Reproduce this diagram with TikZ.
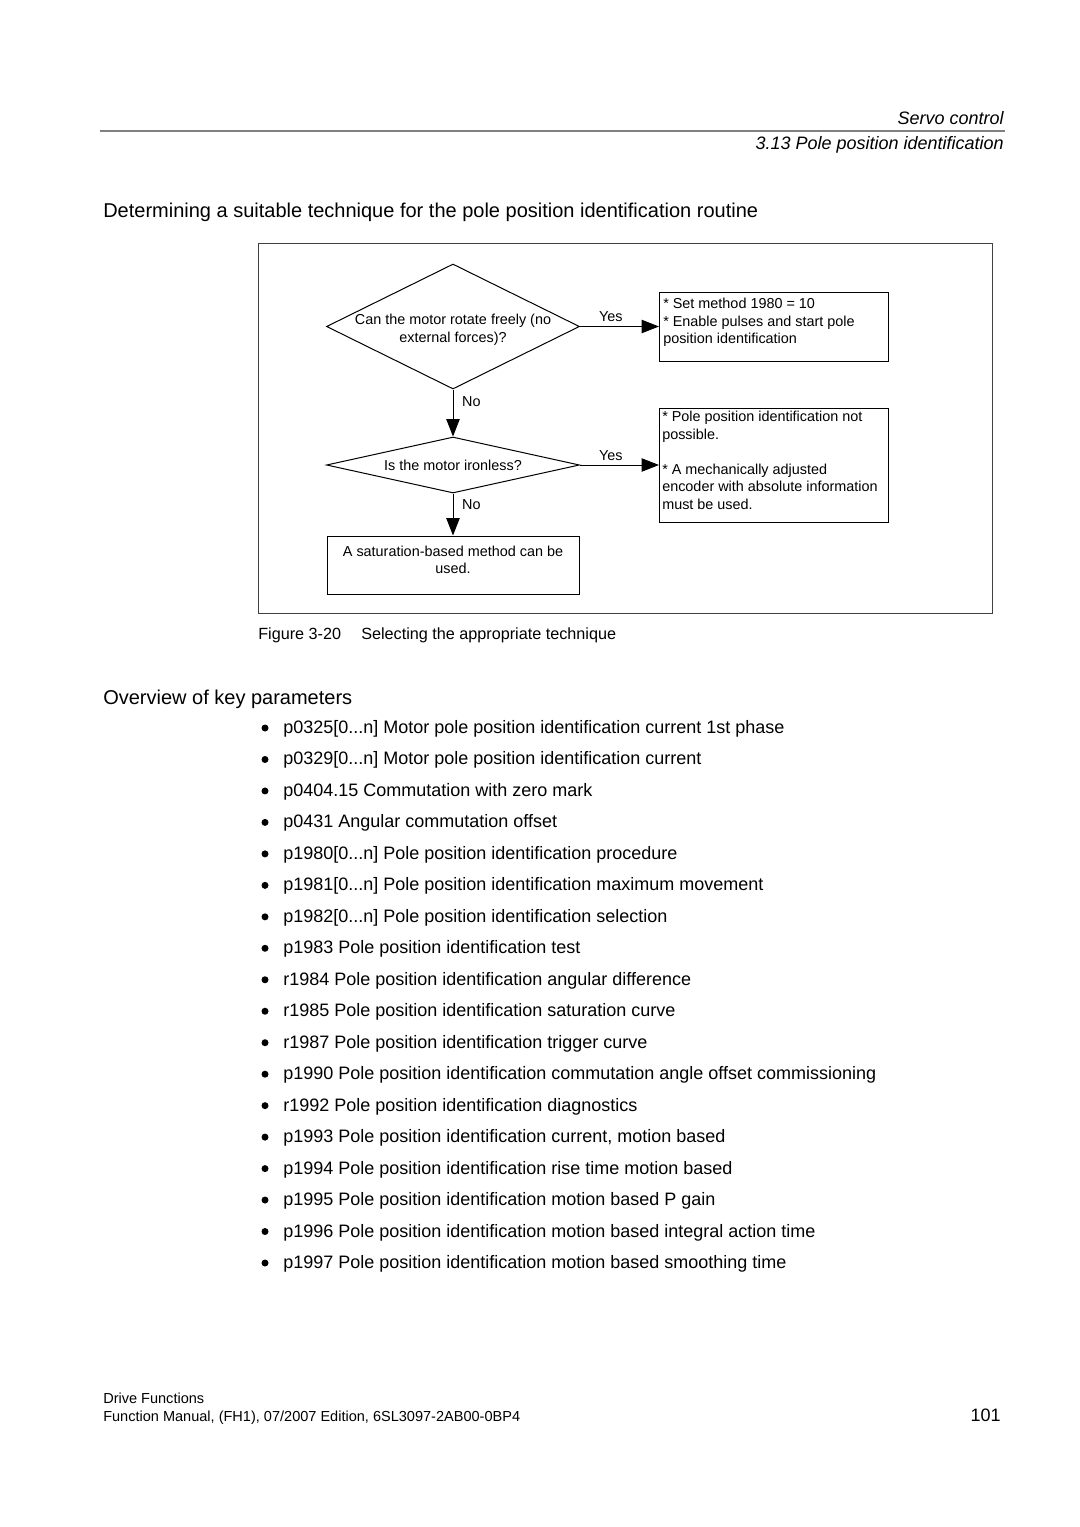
\documentclass[tikz,border=0pt]{standalone}
\usepackage{fontspec}
\setmainfont{Liberation Sans}
\usetikzlibrary{positioning,shapes.geometric,arrows.meta}
\newcommand{\idxrange}{[0...n]}

\begin{document}
\begin{tikzpicture}[x=0.75pt, y=-0.75pt,
          arrowstyle/.style={-{Triangle[length=13pt, width=10pt]}, line width=0.75pt},
          flowtext/.style={font=\fontsize{10.8}{13.1}\selectfont, inner sep=0pt}]
          % Boxes and diamonds of the flow chart
          \tikzstyle{boxnode} = [draw, rectangle, line width=0.75pt, inner sep=0pt]
          \tikzstyle{asknode} = [draw, diamond, line width=0.75pt, inner sep=0pt, minimum width=189.75pt]
          \tikzstyle{boxtext} = [flowtext, align=left, anchor=north west]
          \tikzstyle{edgelabel} = [flowtext]
          % Page text
          \tikzstyle{headtext} = [font=\fontsize{13.5}{16}\selectfont\itshape, inner sep=0pt, anchor=base east]
          \tikzstyle{titletext} = [font=\fontsize{15}{18}\selectfont, inner sep=0pt, anchor=base west]
          \tikzstyle{bodytext} = [font=\fontsize{13.5}{16}\selectfont, inner sep=0pt, anchor=base west]
          \tikzstyle{smalltext} = [font=\fontsize{10.9}{13}\selectfont, inner sep=0pt, anchor=base west]
          \tikzstyle{bulletdot} = [circle, fill, inner sep=0pt, minimum size=5.25pt]

          \useasboundingbox (0,0) rectangle (1080,1527);
          \fill[white] (0,0) rectangle (1080,1527);

          % Running head
          \node (chapter) [headtext] at (1004,124.5) {Servo control};
          \node (section) [headtext] at (1004,149) {3.13 Pole position identification};
          \draw[gray, line width=1.2pt] (100,131) -- (1005,131);

          \node (title) [titletext] at (103,217) {Determining a suitable technique for the pole position identification routine};

          % Figure frame
          \draw[black!75, line width=0.75pt] (258,243) rectangle (992,613);

          % Flow chart
          \node (rotate)  [asknode, minimum height=93.75pt] at (453,326.5) {};
          \node (ironless)[asknode, minimum height=42pt, below=35.25pt of rotate] {};
          \node (saturation) [boxnode, minimum width=189pt, minimum height=43.5pt, below=31.5pt of ironless] {};
          \node (setmethod)  [boxnode, minimum width=171.75pt, minimum height=51.75pt, right=59.25pt of rotate] {};
          \node (notpossible)[boxnode, minimum width=171.75pt, minimum height=85.5pt, right=59.25pt of ironless] {};

          \node (rotatetext)   [flowtext, align=center] at (453,330) {Can the motor rotate freely (no\\external forces)?};
          \node (ironlesstext) [flowtext] at (453,465) {Is the motor ironless?};
          \node (saturationtext) [flowtext, align=center] at (453,560) {A saturation-based method can be\\used.};
          \node (setmethodtext) [boxtext] at ([shift={(4,6.5)}]setmethod.north west)
                {* Set method 1980 = 10\\* Enable pulses and start pole\\position identification};
          \node (notpossibletext) [boxtext] at ([shift={(3,3.5)}]notpossible.north west)
                {* Pole position identification not\\possible.\\[13.1pt]* A mechanically adjusted\\encoder with absolute information\\must be used.};

          % Connectors
          \draw[arrowstyle] (rotate) -- node[edgelabel, above=3pt, pos=0.39] (yesone) {Yes} (setmethod);
          \draw[arrowstyle] (ironless) -- node[edgelabel, above=3pt, pos=0.39] (yestwo) {Yes} (notpossible);
          \draw[arrowstyle] (rotate) -- node[edgelabel, right=6.5pt, pos=0.26] (noone) {No} (ironless);
          \draw[arrowstyle] (ironless) -- node[edgelabel, right=6.5pt, pos=0.26] (notwo) {No} (saturation);

          \node (figno)  [smalltext, font=\fontsize{12.15}{14}\selectfont] at (258,639) {Figure 3-20};
          \node (figcap) [smalltext, font=\fontsize{12.15}{14}\selectfont] at (361,639) {Selecting the appropriate technique};

          % Parameter list
          \node (overview) [titletext] at (103,704) {Overview of key parameters};
          \foreach \txt [count=\i from 0] in {
                {p0325\idxrange{} Motor pole position identification current 1st phase},
                {p0329\idxrange{} Motor pole position identification current},
                {p0404.15 Commutation with zero mark},
                {p0431 Angular commutation offset},
                {p1980\idxrange{} Pole position identification procedure},
                {p1981\idxrange{} Pole position identification maximum movement},
                {p1982\idxrange{} Pole position identification selection},
                {p1983 Pole position identification test},
                {r1984 Pole position identification angular difference},
                {r1985 Pole position identification saturation curve},
                {r1987 Pole position identification trigger curve},
                {p1990 Pole position identification commutation angle offset commissioning},
                {r1992 Pole position identification diagnostics},
                {p1993 Pole position identification current, motion based},
                {p1994 Pole position identification rise time motion based},
                {p1995 Pole position identification motion based P gain},
                {p1996 Pole position identification motion based integral action time},
                {p1997 Pole position identification motion based smoothing time}} {
            \node (dot\i)  [bulletdot] at (265,{728+31.47*\i}) {};
            \node (item\i) [bodytext] at (283,{733.5+31.47*\i}) {\txt};
          }

          % Footer
          \node (manual)  [smalltext] at (103,1403) {Drive Functions};
          \node (edition) [smalltext] at (103,1421) {Function Manual, (FH1), 07/2007 Edition, 6SL3097-2AB00-0BP4};
          \node (pageno)  [bodytext, anchor=base east] at (1001,1421.5) {101};
\end{tikzpicture}
\end{document}
